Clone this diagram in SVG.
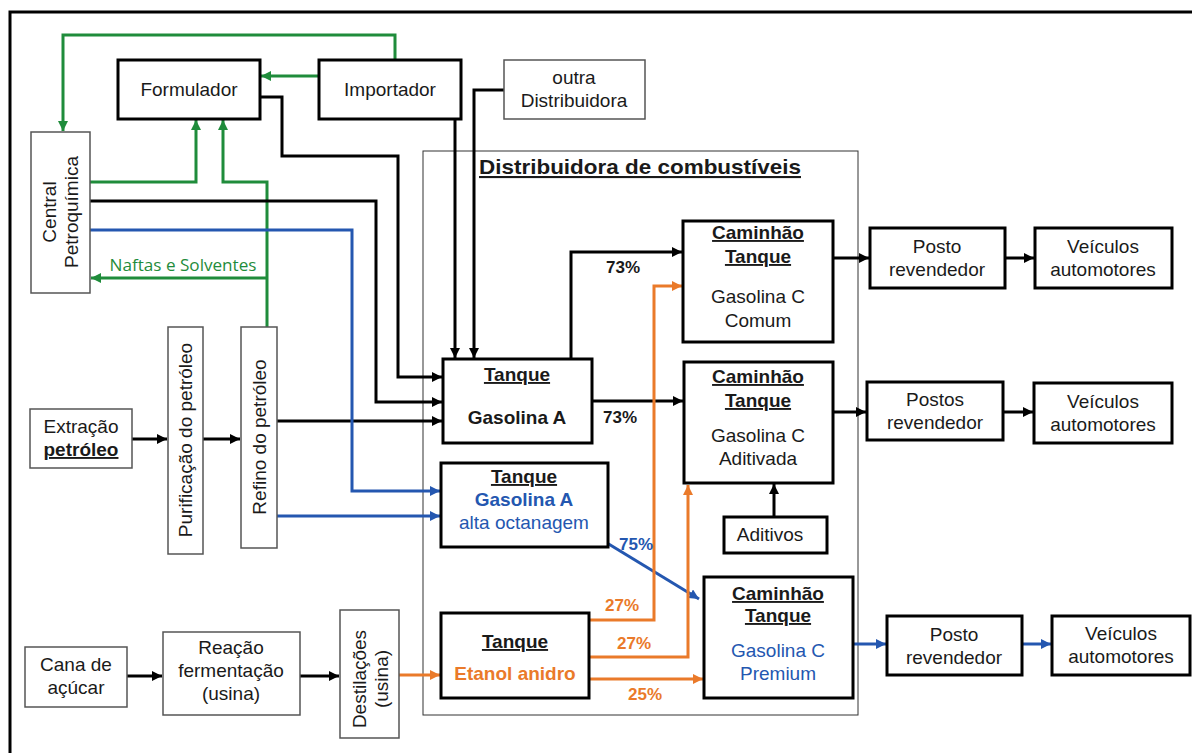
<svg xmlns="http://www.w3.org/2000/svg" width="1192" height="753" viewBox="0 0 1192 753">
<style>
text{font-family:"Liberation Sans",Arial,sans-serif;font-size:19px;fill:#1a1a1a;text-anchor:middle}
.b{font-weight:bold}
.u{text-decoration:underline}
.thick{fill:#fff;stroke:#000;stroke-width:3}
.thin{fill:#fff;stroke:#555;stroke-width:1.5}
.c{fill:none;stroke-width:3}
.k{stroke:#000}
.g{stroke:#1f8c3b}
.bl{stroke:#2457b0}
.o{stroke:#ea7a2a}
.pct{font-size:17px;font-weight:bold}
</style>
<defs>
<marker id="ak" viewBox="0 0 10 10" refX="10" refY="5" markerWidth="10" markerHeight="10" markerUnits="userSpaceOnUse" orient="auto"><path d="M0,0 L10,5 L0,10 z" fill="#000"/></marker>
<marker id="ag" viewBox="0 0 10 10" refX="10" refY="5" markerWidth="10" markerHeight="10" markerUnits="userSpaceOnUse" orient="auto"><path d="M0,0 L10,5 L0,10 z" fill="#1f8c3b"/></marker>
<marker id="ab" viewBox="0 0 10 10" refX="10" refY="5" markerWidth="10" markerHeight="10" markerUnits="userSpaceOnUse" orient="auto"><path d="M0,0 L10,5 L0,10 z" fill="#2457b0"/></marker>
<marker id="ao" viewBox="0 0 10 10" refX="10" refY="5" markerWidth="10" markerHeight="10" markerUnits="userSpaceOnUse" orient="auto"><path d="M0,0 L10,5 L0,10 z" fill="#ea7a2a"/></marker>
</defs>
<rect width="1192" height="753" fill="#fff"/>
<path d="M10,753 V12 H1192" fill="none" stroke="#000" stroke-width="3"/>

<g id="distribuidora">
<rect x="423" y="151" width="435" height="564" fill="none" stroke="#333" stroke-width="1"/>
<text x="479" y="174" class="b u" style="text-anchor:start;font-size:21px" textLength="322" lengthAdjust="spacingAndGlyphs">Distribuidora de combustíveis</text>
</g>

<g id="connectors">
<path class="c g" d="M395,60 V35 H63 V131" marker-end="url(#ag)"/>
<path class="c g" d="M319,76 H261" marker-end="url(#ag)"/>
<path class="c g" d="M90,182 H196 V120" marker-end="url(#ag)"/>
<path class="c g" d="M267,327 V182 H223 V120" marker-end="url(#ag)"/>
<path class="c g" d="M267,278 H91" marker-end="url(#ag)"/>
<path class="c k" d="M260,97 H282 V156 H398 V377 H442" marker-end="url(#ak)"/>
<path class="c k" d="M90,201 H376 V402 H442" marker-end="url(#ak)"/>
<path class="c k" d="M277,421 H442" marker-end="url(#ak)"/>
<path class="c k" d="M455,119 V358" marker-end="url(#ak)"/>
<path class="c k" d="M504,90 H474 V358" marker-end="url(#ak)"/>
<path class="c k" d="M571,359 V252 H682" marker-end="url(#ak)"/>
<path class="c k" d="M592,401 H683" marker-end="url(#ak)"/>
<path class="c k" d="M774,517 V484" marker-end="url(#ak)"/>
<path class="c k" d="M832,258 H869" marker-end="url(#ak)"/>
<path class="c k" d="M1005,258 H1034" marker-end="url(#ak)"/>
<path class="c k" d="M833,412 H866" marker-end="url(#ak)"/>
<path class="c k" d="M1003,412 H1033" marker-end="url(#ak)"/>
<path class="c k" d="M132,439 H167" marker-end="url(#ak)"/>
<path class="c k" d="M203,439 H240" marker-end="url(#ak)"/>
<path class="c k" d="M127,676 H162" marker-end="url(#ak)"/>
<path class="c k" d="M300,676 H339" marker-end="url(#ak)"/>
<path class="c bl" d="M90,230 H352 V491 H440" marker-end="url(#ab)"/>
<path class="c bl" d="M277,516 H440" marker-end="url(#ab)"/>
<path class="c bl" d="M607,543 L699,599" marker-end="url(#ab)"/>
<path class="c bl" d="M853,644 H886" marker-end="url(#ab)"/>
<path class="c bl" d="M1022,644 H1051" marker-end="url(#ab)"/>
<path class="c o" d="M399,675 H440" marker-end="url(#ao)"/>
<path class="c o" d="M589,620 H654 V286 H682" marker-end="url(#ao)"/>
<path class="c o" d="M589,657 H688 V485" marker-end="url(#ao)"/>
<path class="c o" d="M589,679 H703" marker-end="url(#ao)"/>
<text x="183" y="271" style="font-family:'Open Sans','Noto Sans',sans-serif;font-size:16px;fill:#1f8c3b" textLength="147" lengthAdjust="spacingAndGlyphs">Naftas e Solventes</text>
<text x="623" y="273" class="pct">73%</text>
<text x="620" y="423" class="pct">73%</text>
<text x="636" y="550" class="pct" style="fill:#2457b0">75%</text>
<text x="622" y="611" class="pct" style="fill:#ea7a2a">27%</text>
<text x="634" y="649" class="pct" style="fill:#ea7a2a">27%</text>
<text x="645" y="700" class="pct" style="fill:#ea7a2a">25%</text>
</g>

<g id="central">
<rect class="thin" x="31" y="132" width="59" height="161"/>
<text transform="translate(56,212) rotate(-90)">Central</text>
<text transform="translate(78,212) rotate(-90)">Petroquímica</text>
</g>
<g id="formulador">
<rect class="thick" x="118" y="60" width="142" height="59"/>
<text x="189" y="96">Formulador</text>
</g>
<g id="importador">
<rect class="thick" x="319" y="60" width="142" height="59"/>
<text x="390" y="96">Importador</text>
</g>
<g id="outra">
<rect class="thin" x="504" y="60" width="141" height="59"/>
<text x="574" y="84">outra</text>
<text x="574" y="107">Distribuidora</text>
</g>
<g id="extracao">
<rect class="thin" x="30" y="409" width="102" height="59"/>
<text x="81" y="433">Extração</text>
<text x="81" y="456" class="b u">petróleo</text>
</g>
<g id="purificacao">
<rect class="thin" x="168" y="327" width="35" height="227"/>
<text transform="translate(192,440) rotate(-90)">Purificação do petróleo</text>
</g>
<g id="refino">
<rect class="thin" x="241" y="327" width="36" height="221"/>
<text transform="translate(266,437) rotate(-90)">Refino do petróleo</text>
</g>
<g id="cana">
<rect class="thin" x="25" y="647" width="102" height="60"/>
<text x="76" y="671">Cana de</text>
<text x="76" y="694">açúcar</text>
</g>
<g id="reacao">
<rect class="thin" x="163" y="632" width="137" height="83"/>
<text x="231" y="654">Reação</text>
<text x="231" y="677">fermentação</text>
<text x="231" y="700">(usina)</text>
</g>
<g id="destilacoes">
<rect class="thin" x="340" y="610" width="59" height="128"/>
<text transform="translate(366,679) rotate(-90)">Destilações</text>
<text transform="translate(388,679) rotate(-90)">(usina)</text>
</g>
<g id="tanque-gasolina-a">
<rect class="thick" x="443" y="359" width="149" height="84"/>
<text x="517" y="381" class="b u">Tanque</text>
<text x="517" y="424" class="b">Gasolina A</text>
</g>
<g id="tanque-alta">
<rect class="thick" x="441" y="463" width="167" height="84"/>
<text x="524" y="483" class="b u">Tanque</text>
<text x="524" y="506" class="b" style="fill:#2457b0">Gasolina A</text>
<text x="524" y="529" style="fill:#2457b0">alta octanagem</text>
</g>
<g id="tanque-etanol">
<rect class="thick" x="441" y="613" width="148" height="85"/>
<text x="515" y="648" class="b u">Tanque</text>
<text x="515" y="680" class="b" style="fill:#ea7a2a">Etanol anidro</text>
</g>
<g id="caminhao-comum">
<rect class="thick" x="683" y="221" width="150" height="121"/>
<text x="758" y="239" class="b u">Caminhão</text>
<text x="758" y="263" class="b u">Tanque</text>
<text x="758" y="303">Gasolina C</text>
<text x="758" y="327">Comum</text>
</g>
<g id="caminhao-aditivada">
<rect class="thick" x="684" y="362" width="149" height="121"/>
<text x="758" y="383" class="b u">Caminhão</text>
<text x="758" y="407" class="b u">Tanque</text>
<text x="758" y="442">Gasolina C</text>
<text x="758" y="465">Aditivada</text>
</g>
<g id="aditivos">
<rect class="thick" x="724" y="517" width="103" height="36"/>
<text x="770" y="541">Aditivos</text>
</g>
<g id="caminhao-premium">
<rect class="thick" x="704" y="577" width="149" height="121"/>
<text x="778" y="600" class="b u">Caminhão</text>
<text x="778" y="622" class="b u">Tanque</text>
<text x="778" y="657" style="fill:#2457b0">Gasolina C</text>
<text x="778" y="680" style="fill:#2457b0">Premium</text>
</g>
<g id="posto1">
<rect class="thick" x="870" y="228" width="135" height="60"/>
<text x="937" y="253">Posto</text>
<text x="937" y="276">revendedor</text>
</g>
<g id="veiculos1">
<rect class="thick" x="1035" y="228" width="137" height="60"/>
<text x="1103" y="253">Veículos</text>
<text x="1103" y="276">automotores</text>
</g>
<g id="posto2">
<rect class="thick" x="867" y="382" width="136" height="58"/>
<text x="935" y="406">Postos</text>
<text x="935" y="429">revendedor</text>
</g>
<g id="veiculos2">
<rect class="thick" x="1034" y="383" width="138" height="60"/>
<text x="1103" y="408">Veículos</text>
<text x="1103" y="431">automotores</text>
</g>
<g id="posto3">
<rect class="thick" x="887" y="616" width="135" height="59"/>
<text x="954" y="641">Posto</text>
<text x="954" y="664">revendedor</text>
</g>
<g id="veiculos3">
<rect class="thick" x="1052" y="616" width="138" height="59"/>
<text x="1121" y="640">Veículos</text>
<text x="1121" y="663">automotores</text>
</g>
</svg>
